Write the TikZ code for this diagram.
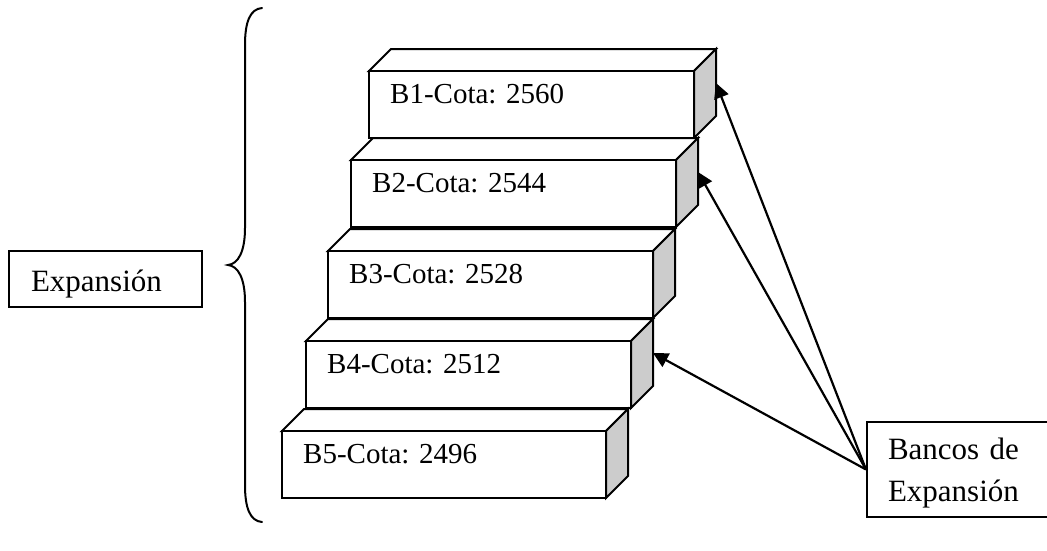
\documentclass[tikz,border=0pt]{standalone}
\usepackage{fontspec}
\setmainfont{Liberation Serif}
\usetikzlibrary{arrows.meta}
\definecolor{sidegray}{RGB}{204,204,204}

% One stepped bench: top face, shaded side face, front face, its label,
% and a point on the back edge of the side face for the pointer arrows.
% #1 name, #2 left, #3 top, #4 right, #5 bottom (front face), #6 label
\newcommand\bankbox[6]{%
  \draw[face, fill=white] (#2,#3) -- (#2+22,#3-22) -- (#4+22,#3-22) -- (#4,#3) -- cycle;
  \draw[face, fill=sidegray] (#4,#3) -- (#4+22,#3-22) -- (#4+22,#5-22) -- (#4,#5) -- cycle;
  \draw[face, fill=white] (#2,#3) rectangle (#4,#5);
  \node[lbl, anchor=base west] (#1) at (#2+21,#3+32) {#6};
  \coordinate (#1-side) at (#4+22,#3+12);
}

\begin{document}
\begin{tikzpicture}[x=1pt, y=-1pt,
  face/.style={draw=black, line width=2pt},
  lbl/.style={inner sep=0pt, font=\fontsize{29}{35}\selectfont},
  callout/.style={draw=black, line width=2pt, fill=white, align=left,
    font=\fontsize{31}{42}\selectfont},
  pointer/.style={line width=2.2pt, -{Triangle[length=15pt, width=15pt]}},
  brace/.style={line width=2pt, line cap=round}]
\useasboundingbox (0,0) rectangle (1047,550);

% stacked benches, upper (farther) first
\bankbox{b1}{369}{71}{694}{138}{B1-Cota: 2560}
\bankbox{b2}{351}{160}{676}{227}{B2-Cota: 2544}
\bankbox{b3}{328}{251}{653}{318}{B3-Cota: 2528}
\bankbox{b4}{306}{341}{631}{408}{B4-Cota: 2512}
\bankbox{b5}{282}{431}{606}{498}{B5-Cota: 2496}

% left curly brace
\draw[brace] (262,8) .. controls (250,9) and (245,22) .. (245,45)
  -- (245,228) .. controls (245,252) and (238,264) .. (228,265)
  .. controls (238,266) and (245,278) .. (245,302)
  -- (245,485) .. controls (245,508) and (250,521) .. (262,522);

% label on the left
\node[callout, anchor=north west, minimum width=193pt, minimum height=56pt,
  text width=149pt, inner xsep=22pt, inner ysep=0pt,
  text height=30pt, text depth=6pt] (expansion) at (8,250) {Expansión};

% label on the right
\node[callout, anchor=north west, minimum height=95pt,
  text width=142pt, inner xsep=21pt, inner ysep=0pt] (bancos) at (866,421)
  {\strut Bancos de\\Expansión};

% pointers to the benches
\draw[pointer] (bancos.west) -- (b1-side);
\draw[pointer] (bancos.west) -- (b2-side);
\draw[pointer] (bancos.west) -- (b4-side);
\end{tikzpicture}
\end{document}
